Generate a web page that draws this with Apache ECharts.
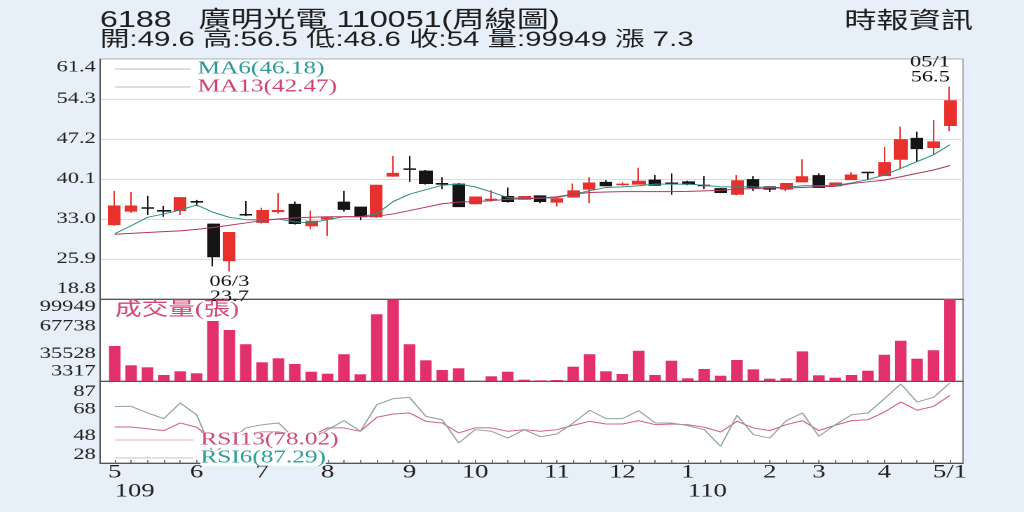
<!DOCTYPE html>
<html><head><meta charset="utf-8">
<script src="https://cdn.jsdelivr.net/npm/echarts@6/dist/echarts.min.js"></script>
<style>
html,body{margin:0;padding:0;background:#e7f0f8;overflow:hidden;width:1024px;height:512px;}
#chart{width:731px;height:512px;transform:scaleX(1.40082);transform-origin:0 0;}
</style></head><body><div id="chart"></div>
<script>
// ---- data (weekly, 109/5 .. 110/5/1) ----
const opens  = [32.0,34.4,35.0,34.5,34.5,36.1,32.1,25.6,33.8,32.4,34.3,35.6,31.8,33.0,36.0,35.1,33.4,40.6,41.9,41.5,39.3,39.2,35.7,36.4,37.0,36.5,37.1,36.0,36.9,38.3,39.5,39.1,39.2,39.9,39.4,39.6,39.0,38.4,37.4,40.0,38.7,38.3,39.6,40.7,38.9,40.0,41.3,40.7,43.6,47.3,45.7,49.6];
const closes = [35.3,35.3,34.9,34.4,36.8,36.0,26.3,30.6,33.7,34.5,34.5,32.2,32.6,33.2,34.7,33.4,39.0,41.1,41.8,39.3,39.2,35.2,36.9,36.5,36.1,37.0,36.1,36.6,38.0,39.4,38.9,39.2,39.7,39.0,39.3,39.2,38.9,37.7,39.8,38.6,38.3,39.3,40.5,38.6,39.4,40.8,41.2,43.0,47.1,45.5,46.7,54];
const lows   = [31.8,34.1,33.7,33.4,33.7,35.3,24.6,23.7,33.5,32.2,34.0,32.0,31.2,30.0,34.3,32.8,33.2,40.5,39.6,39.1,38.3,35.1,35.6,36.1,35.9,36.4,35.8,35.2,36.8,35.8,38.8,38.9,39.1,38.9,37.3,39.0,38.3,37.6,37.2,38.0,37.8,38.0,39.5,38.5,38.8,39.9,40.0,40.6,41.8,43.2,44.5,48.6];
const highs  = [38.0,37.8,37.1,35.3,36.9,36.4,32.2,30.6,36.2,35.0,37.6,36.1,34.5,33.4,38.0,35.2,39.1,44.2,44.2,41.7,40.4,39.4,37.0,38.1,38.6,37.1,37.2,36.7,39.3,40.4,39.9,39.5,42.1,40.8,41.1,39.8,40.6,38.5,40.8,40.6,38.8,39.4,43.6,41.1,39.5,41.3,41.4,45.8,49.4,48.5,50.6,56.5];
const ma6    = [30.4,31.8,33.3,33.9,34.6,35.5,34.2,33.3,32.9,32.8,33.0,32.5,32.3,32.9,33.4,33.4,33.9,36.1,37.4,38.2,39.0,39.2,38.7,37.8,36.8,36.7,36.7,36.8,37.4,38.0,38.6,38.7,38.9,39.2,39.2,39.2,39.0,38.7,38.7,38.7,38.6,38.6,38.9,38.9,39.0,39.4,40.0,40.8,42.0,43.2,44.4,46.18];
const ma13   = [30.3,30.45,30.6,30.75,30.9,31.15,31.5,31.9,32.3,32.7,33.0,33.2,33.3,33.4,33.4,33.45,33.5,33.9,34.5,35.1,35.7,36.0,36.1,36.25,36.5,36.6,36.7,36.95,37.4,37.7,37.8,37.85,37.85,37.85,37.85,37.9,38.0,38.1,38.3,38.4,38.5,38.5,38.6,38.7,38.8,39.3,39.6,39.9,40.5,41.1,41.7,42.47];
const volumes= [44560,21800,19460,10390,14750,12390,74020,63410,46560,25350,30070,23350,14280,11920,34780,11210,81920,99000,46560,27700,16280,18280,3317,8850,14280,4850,4100,4500,20170,34780,14750,11560,39030,10390,27250,6500,17460,9560,28060,17100,6030,6500,38300,10030,7200,10390,15450,34310,50800,29600,39490,99949];
const rsi6   = [70.0,70.0,65.1,60.9,72.5,63.8,35.0,44.0,54.0,56.4,57.7,46.0,44.0,52.7,59.4,51.5,71.2,75.7,76.7,62.6,60.1,42.8,52.7,51.5,46.5,52.7,47.5,49.5,57.7,67.1,60.9,60.9,66.8,57.7,57.7,55.7,52.7,40.4,63.4,49.0,46.5,59.4,65.1,47.8,56.4,63.8,65.1,75.7,86.6,73.2,76.7,87.29];
const rsi13  = [54.7,54.7,53.4,52.0,57.7,54.5,45.0,48.0,50.0,51.0,51.0,49.0,48.0,54.0,54.0,51.5,61.9,64.3,65.1,58.9,57.7,50.3,54.0,54.0,51.5,52.7,51.5,52.7,56.0,58.9,56.9,56.9,59.4,56.4,56.9,56.4,54.5,51.0,58.9,54.0,52.0,56.4,59.4,52.0,56.0,59.4,60.1,65.8,73.2,67.1,70.0,78.02];

const priceTicks = [18.8,25.9,33.0,40.1,47.2,54.3,61.4];
const volTicks   = [3317,35528,67738,99949];
const rsiTicks   = [28,48,68,87];
const monthTickIdx = [0,5,9,13,18,22,27,31,35,40,43,47,51];
const monthLabels  = ['5','6','7','8','9','10','11','12','1','2','3','4','5/1'];
const yearTickIdx  = [0,35];
const yearLabels   = ['109','110'];
const extremeIdx   = [51,7];
const extremeDates = ['05/1','06/3'];
const stockTitle = '6188   廣明光電 110051(周線圖)';
const sourceText = '時報資訊';

// ---- layout helpers (reference px -> layout px; page is stretched horizontally) ----
const SX = 1024 / 731;
const X = px => px / SX;
const weeks = opens.map((_, i) => i);
const last = opens.length - 1;
const SERIF = "'Liberation Serif','Noto Sans CJK TC',serif";
const SANS = "'Liberation Sans','Noto Sans CJK TC',sans-serif";

const xMin = -0.9, xMax = 51.8;
const gridL = X(100), gridW = X(863);

function edgeFmt(ticks, digits) {
  return v => {
    const s = digits ? v.toFixed(digits) : String(v);
    if (v === ticks[ticks.length - 1]) return '{t|' + s + '}';
    if (v === ticks[0]) return '{b|' + s + '}';
    return s;
  };
}
function yAxisLabel(ticks, digits, padT, padB) {
  return {
    customValues: ticks, formatter: edgeFmt(ticks, digits), margin: 3,
    fontSize: 16, fontFamily: SERIF, color: '#222',
    rich: {
      t: {fontSize: 16, fontFamily: SERIF, color: '#222', padding: [padT, 0, 0, 0]},
      b: {fontSize: 16, fontFamily: SERIF, color: '#222', padding: [0, 0, padB, 0]}
    }
  };
}
const hiddenX = gi => ({
  type: 'value', gridIndex: gi, min: xMin, max: xMax, position: 'bottom',
  axisLine: {show: true, onZero: false, lineStyle: {color: '#555', width: 1}},
  axisTick: {show: false}, axisLabel: {show: false}, splitLine: {show: false}
});

const chg = (closes[last] - closes[last - 1]).toFixed(1);
const header2 = `開:${opens[last]} 高:${highs[last]} 低:${lows[last]} 收:${closes[last]} 量:${volumes[last]} 漲 ${chg}`;
const ma6Name = `MA6(${ma6[last].toFixed(2)})`;
const ma13Name = `MA13(${ma13[last].toFixed(2)})`;
const rsi6Name = `RSI6(${rsi6[last].toFixed(2)})`;
const rsi13Name = `RSI13(${rsi13[last].toFixed(2)})`;

const chart = echarts.init(document.getElementById('chart'), null, {devicePixelRatio: 2});
chart.setOption({
  animation: false,
  backgroundColor: '#e7f0f8',
  title: [
    {text: stockTitle, left: X(100), top: 8.5, padding: 0,
     textStyle: {fontSize: 23, lineHeight: 24, fontWeight: 'normal', color: '#1e1e1e', fontFamily: SANS}},
    {text: header2, left: X(100), top: 29, padding: 0,
     textStyle: {fontSize: 21, lineHeight: 22, fontWeight: 'normal', color: '#1e1e1e', fontFamily: SANS}},
    {text: sourceText, right: 731 - X(973), top: 7, padding: 0,
     textStyle: {fontSize: 23, lineHeight: 25, fontWeight: 'normal', color: '#1e1e1e', fontFamily: "'Noto Sans CJK TC',sans-serif"}},
    {text: '成交量(張)', left: X(115), top: 300, padding: 0,
     textStyle: {fontSize: 19, lineHeight: 20, fontWeight: 'normal', color: '#d4457a', fontFamily: SERIF}}
  ],
  legend: [
    {orient: 'vertical', left: X(115), top: 60, padding: 0, itemGap: 0, selectedMode: false,
     icon: 'rect', itemWidth: 54, itemHeight: 1,
     textStyle: {fontSize: 18, lineHeight: 17, fontFamily: SERIF},
     data: [
       {name: ma6Name, itemStyle: {color: '#bdbdbd', borderWidth: 0}, textStyle: {color: '#2a9a96'}},
       {name: ma13Name, itemStyle: {color: '#bdbdbd', borderWidth: 0}, textStyle: {color: '#d0416c'}}
     ]},
    {orient: 'vertical', left: X(115), top: 431, padding: 0, itemGap: 0, selectedMode: false,
     icon: 'rect', itemWidth: 56, itemHeight: 1,
     textStyle: {fontSize: 18, lineHeight: 15.5, fontFamily: SERIF, backgroundColor: '#fff'},
     data: [
       {name: rsi13Name, itemStyle: {color: '#eab0bd', borderWidth: 0}, textStyle: {color: '#d0487a'}},
       {name: rsi6Name, itemStyle: {color: '#c4c4c4', borderWidth: 0}, textStyle: {color: '#2a9d98'}}
     ]}
  ],
  grid: [
    {left: gridL, width: gridW, top: 59, height: 240, show: true, backgroundColor: '#fff', borderColor: '#aaa', borderWidth: 1, containLabel: false, outerBoundsMode: 'none'},
    {left: gridL, width: gridW, top: 299, height: 82, show: true, backgroundColor: '#fff', borderColor: '#888', borderWidth: 1, containLabel: false, outerBoundsMode: 'none'},
    {left: gridL, width: gridW, top: 381, height: 82, show: true, backgroundColor: '#fff', borderColor: '#888', borderWidth: 1, containLabel: false, outerBoundsMode: 'none'}
  ],
  xAxis: [
    hiddenX(0), hiddenX(1),
    {type: 'value', gridIndex: 2, min: xMin, max: xMax, position: 'bottom', offset: 0,
     axisLine: {show: true, onZero: false, lineStyle: {color: '#555', width: 1}},
     axisTick: {show: true, inside: true, length: 3, customValues: weeks, lineStyle: {color: '#777'}},
     axisLabel: {customValues: monthTickIdx, formatter: v => monthLabels[monthTickIdx.indexOf(v)],
                 margin: 0, fontSize: 19, lineHeight: 19, fontFamily: SERIF, color: '#222'},
     splitLine: {show: false}},
    {type: 'value', gridIndex: 2, min: xMin, max: xMax, position: 'bottom', offset: 0,
     axisLine: {show: false, onZero: false}, axisTick: {show: false},
     axisLabel: {customValues: yearTickIdx, formatter: v => yearLabels[yearTickIdx.indexOf(v)],
                 margin: 19, align: 'left', fontSize: 19, lineHeight: 19, fontFamily: SERIF, color: '#222'},
     splitLine: {show: false}}
  ],
  yAxis: [
    {type: 'value', gridIndex: 0, min: priceTicks[0], max: priceTicks[priceTicks.length - 1],
     axisLine: {show: true, onZero: false, lineStyle: {color: '#555'}},
     axisTick: {show: false, customValues: priceTicks},
     axisLabel: yAxisLabel(priceTicks, 1, 17, 20),
     splitLine: {show: true, lineStyle: {color: '#dcdcdc', width: 1}}},
    {type: 'value', gridIndex: 1, min: volTicks[0], max: volTicks[volTicks.length - 1],
     axisLine: {show: true, onZero: false, lineStyle: {color: '#555'}},
     axisTick: {show: false, customValues: volTicks},
     axisLabel: yAxisLabel(volTicks, 0, 16, 19),
     splitLine: {show: false}},
    {type: 'value', gridIndex: 2, min: 28, max: 88.8,
     axisLine: {show: true, onZero: false, lineStyle: {color: '#555'}},
     axisTick: {show: false, customValues: rsiTicks},
     axisLabel: yAxisLabel(rsiTicks, 0, 17, 16),
     splitLine: {show: false}}
  ],
  series: [
    {type: 'candlestick', name: 'K', xAxisIndex: 0, yAxisIndex: 0, barWidth: X(12),
     encode: {x: 0, y: [1, 2, 3, 4]},
     data: weeks.map(i => [i, opens[i], closes[i], lows[i], highs[i]]),
     itemStyle: {color: '#e8302c', color0: '#151515', borderColor: '#e8302c', borderColor0: '#151515', borderWidth: 1},
     markPoint: {
       symbol: 'circle', symbolSize: 0, silent: true,
       label: {fontSize: 16, lineHeight: 15, fontFamily: SERIF, color: '#111'},
       data: [
         {coord: [extremeIdx[0], highs[extremeIdx[0]]],
          label: {position: 'top', align: 'right', distance: 2,
                  formatter: extremeDates[0] + '\n' + highs[extremeIdx[0]]}},
         {coord: [extremeIdx[1], lows[extremeIdx[1]]],
          label: {position: 'bottom', distance: 3,
                  formatter: extremeDates[1] + '\n' + lows[extremeIdx[1]]}}
       ]
     }},
    {type: 'line', name: ma6Name, xAxisIndex: 0, yAxisIndex: 0, symbol: 'none', z: 3,
     data: weeks.map(i => [i, ma6[i]]), lineStyle: {color: '#2f8f88', width: 1}, itemStyle: {color: '#2f8f88'}},
    {type: 'line', name: ma13Name, xAxisIndex: 0, yAxisIndex: 0, symbol: 'none', z: 3,
     data: weeks.map(i => [i, ma13[i]]), lineStyle: {color: '#b2395c', width: 1}, itemStyle: {color: '#b2395c'}},
    {type: 'bar', name: 'VOL', xAxisIndex: 1, yAxisIndex: 1, barWidth: X(11.5),
     data: weeks.map(i => [i, volumes[i]]), itemStyle: {color: '#e2306a'}},
    {type: 'line', name: rsi13Name, xAxisIndex: 2, yAxisIndex: 2, symbol: 'none',
     data: weeks.map(i => [i, rsi13[i]]), lineStyle: {color: '#d4637e', width: 1}, itemStyle: {color: '#d4637e'}},
    {type: 'line', name: rsi6Name, xAxisIndex: 2, yAxisIndex: 2, symbol: 'none',
     data: weeks.map(i => [i, rsi6[i]]), lineStyle: {color: '#8fa39e', width: 1}, itemStyle: {color: '#8fa39e'}}
  ]
});
</script></body></html>
